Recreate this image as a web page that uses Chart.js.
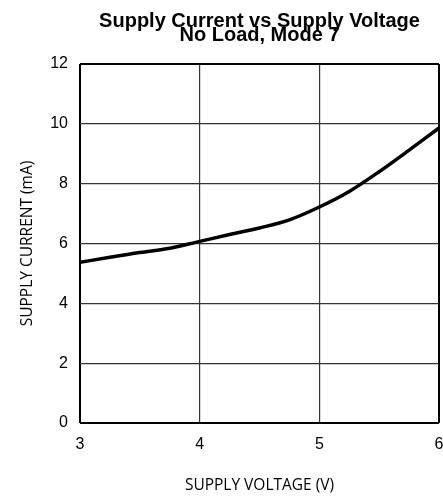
<!DOCTYPE html>
<html>
<head>
<meta charset="utf-8">
<script src="https://cdn.jsdelivr.net/npm/chart.js@4"></script>
<style>
  html, body { margin: 0; padding: 0; background: #fff; }
  #wrap { width: 443px; height: 496px; }
</style>
</head>
<body>
<div id="wrap"><canvas id="currentChart" width="443" height="496"></canvas></div>
<script>
// supply voltage (V) and measured supply current (mA)
const voltage = [3, 3.25, 3.5, 3.75, 4, 4.25, 4.5, 4.75, 5, 5.25, 5.5, 5.75, 6];
const current = [5.37, 5.54, 5.7, 5.84, 6.07, 6.3, 6.52, 6.79, 7.22, 7.74, 8.4, 9.12, 9.86];
const xTicks = [3, 4, 5, 6];
const yTicks = [0, 2, 4, 6, 8, 10, 12];

const tickFont = { family: 'Liberation Sans, Arial, sans-serif', size: 16 };
const labelFont = { family: 'Open Sans, sans-serif', size: 15.5 };

// outer frame lines are heavier than the inner grid
function isEdge(ticks, ctx) {
    return ctx.tick && (ctx.tick.value === ticks[0] || ctx.tick.value === ticks[ticks.length - 1]);
}
function edgeWidth(ticks) {
    return ctx => isEdge(ticks, ctx) ? 2 : 1.2;
}
function edgeColor(ticks) {
    return ctx => isEdge(ticks, ctx) ? '#000' : '#333';
}

new Chart(document.getElementById('currentChart'), {
    type: 'line',
    data: {
        datasets: [{
            data: voltage.map((v, i) => ({ x: v, y: current[i] })),
            borderColor: '#000',
            borderWidth: 3.5,
            pointRadius: 0,
            cubicInterpolationMode: 'monotone',
            fill: false
        }]
    },
    options: {
        responsive: false,
        animation: false,
        layout: { padding: { left: 0, right: 4, top: 0, bottom: 0 } },
        plugins: {
            legend: { display: false },
            tooltip: { enabled: false },
            title: {
                display: true,
                fullSize: false,  // centre over the plot, not the whole canvas
                text: ['Supply Current vs Supply Voltage', 'No Load, Mode 7'],
                color: '#000',
                font: { family: 'Liberation Sans, Arial, sans-serif', size: 20, weight: 'bold', lineHeight: 0.68 },
                padding: { top: 15, bottom: 21.8 }
            }
        },
        scales: {
            x: {
                type: 'linear',
                min: 3,
                max: 6,
                afterBuildTicks: axis => { axis.ticks = xTicks.map(v => ({ value: v })); },
                afterFit: axis => {
                    axis.height = 73;
                    axis.paddingLeft = 0;
                    axis.paddingRight = 0;
                },
                grid: { color: edgeColor(xTicks), lineWidth: edgeWidth(xTicks), drawTicks: false },
                border: { display: false },
                ticks: { color: '#000', font: tickFont, padding: 12, maxRotation: 0 },
                title: {
                    display: true,
                    text: 'SUPPLY VOLTAGE (V)',
                    color: '#000',
                    font: labelFont,
                    padding: { top: 0, bottom: 1 }
                }
            },
            y: {
                min: 0,
                max: 12,
                afterBuildTicks: axis => { axis.ticks = yTicks.map(v => ({ value: v })); },
                afterFit: axis => { axis.width = 80; },
                grid: { color: edgeColor(yTicks), lineWidth: edgeWidth(yTicks), drawTicks: false },
                border: { display: false },
                ticks: { color: '#000', font: tickFont, padding: 12 },
                title: {
                    display: true,
                    text: 'SUPPLY CURRENT (mA)',
                    color: '#000',
                    font: labelFont,
                    padding: { top: 18, bottom: 0 }
                }
            }
        }
    }
});
</script>
</body>
</html>
